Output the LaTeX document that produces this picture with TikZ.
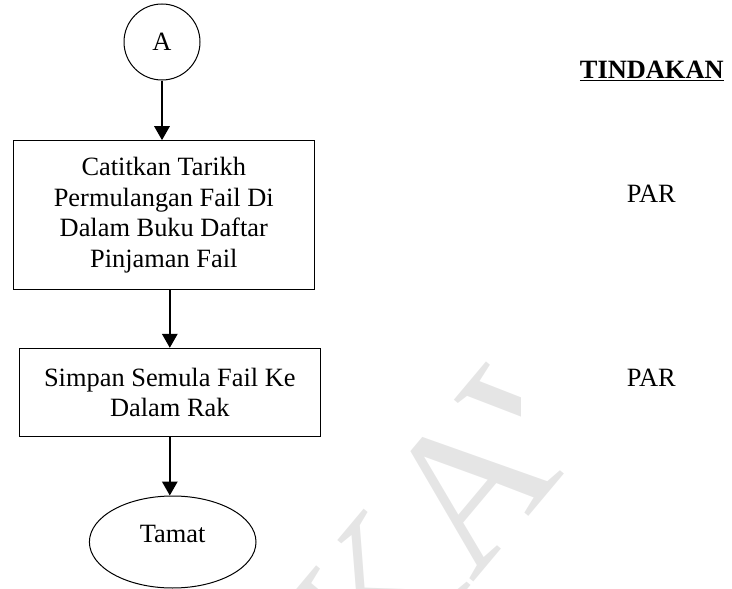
\documentclass[tikz,border=0pt]{standalone}
\usepackage{fontspec}
\setmainfont{Liberation Serif}
\usepackage{tikz}
\usetikzlibrary{arrows.meta,shapes.geometric}
\def\teks{\fontsize{26.4}{30.6}\selectfont}
\tikzset{
	kotak/.style={draw, rectangle, line width=1pt, fill=white, minimum width=301pt, align=center, inner sep=0pt, font=\teks},
	bulat/.style={draw, circle, line width=1pt, minimum size=76pt, inner sep=0pt, font=\teks},
	hujung/.style={draw, ellipse, line width=1pt, minimum width=166.6pt, minimum height=92pt, inner sep=0pt, text height=17.5pt, text depth=17.5pt, font=\teks},
	label/.style={anchor=base, inner sep=0pt, font=\teks},
	anak/.style={line width=1.6pt, -{Triangle[length=14pt,width=15.5pt]}},
	tera/.style={rotate=50, text=black!10, inner sep=0pt, font=\fontsize{200}{200}\selectfont}
}

\begin{document}
\begin{tikzpicture}[x=1pt, y=1pt]
		%%%%% START %%%%%
		\useasboundingbox (0, 0) rectangle (732, -589);
		
		\begin{scope}
			\clip (0, 0) -- (520, 0) -- (520, -470) -- (600, -470) -- (600, -589) -- (0, -589) -- cycle;
			\node[tera, anchor=base east] (teraKiri) at (472.2, -583.4) {TERK};
			\node[tera, anchor=base west] (teraKanan) at (472.2, -583.4) {AWAL};
		\end{scope}
		
		\node[bulat] (A) at (162, -42) {A};
		\node[kotak, minimum height=149.3pt] (catat) at (163.8, -215.3) {Catitkan Tarikh\\Permulangan Fail Di\\Dalam Buku Daftar\\Pinjaman Fail};
		\node[kotak, minimum height=88.4pt] (simpan) at (169.8, -392.5) {Simpan Semula Fail Ke\\Dalam Rak};
		\node[hujung] (tamat) at (172.7, -542) {Tamat};
		
		\draw[anak] (A.south) -- (A.south |- catat.north);
		\draw[anak] (simpan.north |- catat.south) -- (simpan.north);
		\draw[anak] (simpan.south) -- (simpan.south |- tamat.north);
		
		\node[label, font=\teks\bfseries] (tindakan) at (651.8, -78.3) {\underline{TINDAKAN}};
		\node[label] (par1) at (651.3, -202.5) {PAR};
		\node[label] (par2) at (651.3, -386) {PAR};
		
		%%%%% END %%%%%
	\end{tikzpicture}
\end{document}
